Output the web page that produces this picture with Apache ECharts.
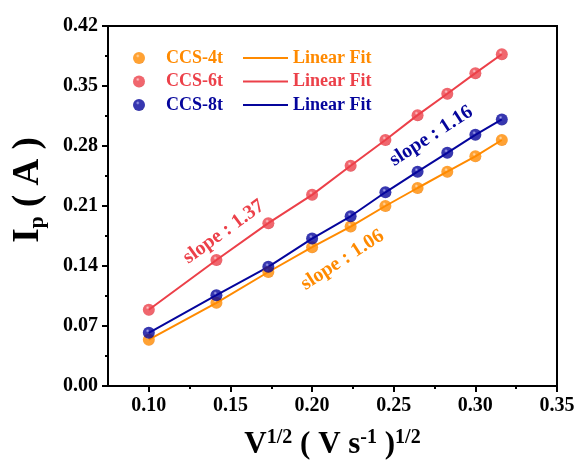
<!DOCTYPE html>
<html>
<head>
<meta charset="utf-8">
<script src="https://cdn.jsdelivr.net/npm/echarts@6/dist/echarts.min.js"></script>
<style>
  html, body { margin: 0; padding: 0; background: #fff; }
  #chart { width: 579px; height: 460px; }
</style>
</head>
<body>
<div id="chart"></div>
<script>
// Square root of scan rate, V^1/2 (V s^-1)^1/2
const sqrtScanRate = [0.1, 0.1414, 0.1732, 0.2, 0.2236, 0.2449, 0.2646, 0.2828, 0.3, 0.3162];

// Peak currents Ip (A) for each sample
const ccs4t = [0.054, 0.097, 0.133, 0.162, 0.186, 0.210, 0.231, 0.250, 0.268, 0.287];
const ccs6t = [0.089, 0.147, 0.190, 0.223, 0.257, 0.287, 0.316, 0.341, 0.365, 0.387];
const ccs8t = [0.062, 0.106, 0.139, 0.172, 0.198, 0.226, 0.250, 0.272, 0.293, 0.311];

const sampleNames = ['CCS-4t', 'CCS-6t', 'CCS-8t'];
const fitNames = ['fit-4t', 'fit-6t', 'fit-8t'];
const slopeTexts = ['slope : 1.06', 'slope : 1.37', 'slope : 1.16'];
// Where each slope annotation sits, in data units [x, y], and its tilt
const slopeAnchors = [[0.2186, 0.147], [0.1459, 0.1797], [0.2730, 0.2917]];
const slopeAngles = [33, 36, 33];

// Axis ticks
const xMajorTicks = [0.10, 0.15, 0.20, 0.25, 0.30, 0.35];
const xMinorTicks = [0.125, 0.175, 0.225, 0.275, 0.325];

const colors = ['#ff8a00', '#ec4049', '#05059c'];
const lights = ['#ffd9a8', '#ffc2c6', '#9c9cf0'];
const darks = ['#d86800', '#c01c26', '#00006a'];

const SERIF = '"Liberation Serif", "Times New Roman", serif';

function ball(i) {
  return {
    type: 'radial', x: 0.4, y: 0.33, r: 0.72,
    colorStops: [
      { offset: 0, color: lights[i] },
      { offset: 0.22, color: colors[i] },
      { offset: 0.85, color: colors[i] },
      { offset: 1, color: darks[i] }
    ]
  };
}

const dataSets = [ccs4t, ccs6t, ccs8t];
const pairs = dataSets.map(arr => sqrtScanRate.map((x, k) => [x, arr[k]]));

// Draw order: orange, red, blue (blue above orange)
const order = [0, 1, 2];
const series = [];
order.forEach(i => {
  series.push({
    name: fitNames[i],
    type: 'line',
    data: pairs[i],
    symbol: 'none',
    lineStyle: { color: colors[i], width: 2 },
    itemStyle: { color: colors[i] },
    z: 2 + i,
    silent: true,
    markPoint: {
      symbol: 'circle',
      symbolSize: 0,
      data: [{ coord: slopeAnchors[i] }],
      label: {
        show: true,
        position: 'inside',
        formatter: slopeTexts[i],
        rotate: slopeAngles[i],
        color: colors[i],
        fontFamily: SERIF,
        fontWeight: 'bold',
        fontSize: 20
      }
    }
  });
});
order.forEach(i => {
  series.push({
    name: sampleNames[i],
    type: 'scatter',
    data: pairs[i],
    symbol: 'circle',
    symbolSize: 12,
    itemStyle: { color: ball(i) },
    z: 10 + i,
    silent: true
  });
});

const legendText = { fontFamily: SERIF, fontWeight: 'bold', fontSize: 18, lineHeight: 18 };

const option = {
  backgroundColor: '#ffffff',
  animation: false,
  grid: {
    left: 108, top: 26, right: 22, bottom: 74,
    outerBoundsMode: 'none', containLabel: false,
    show: true, borderColor: '#000', borderWidth: 2, backgroundColor: 'transparent'
  },
  legend: [
    {
      orient: 'vertical', left: 128, top: 44,
      itemWidth: 44, itemHeight: 12, itemGap: 5.5,
      selectedMode: false,
      data: sampleNames.map((n, i) => ({ name: n, textStyle: Object.assign({ color: colors[i] }, legendText) })),
      textStyle: legendText
    },
    {
      orient: 'vertical', left: 238, top: 44,
      itemWidth: 45, itemHeight: 2, itemGap: 5.5,
      symbolKeepAspect: false,
      selectedMode: false,
      formatter: () => 'Linear Fit',
      data: fitNames.map((n, i) => ({ name: n, icon: 'rect', itemStyle: { color: colors[i] }, textStyle: Object.assign({ color: colors[i] }, legendText) })),
      textStyle: legendText
    }
  ],
  xAxis: [
    {
      type: 'value', min: 0.075, max: 0.35,
      splitLine: { show: false },
      axisLine: { show: true, onZero: false, lineStyle: { color: '#000', width: 2 } },
      axisTick: { show: true, customValues: xMajorTicks, length: 6, lineStyle: { color: '#000', width: 2 } },
      axisLabel: {
        customValues: xMajorTicks, margin: 10,
        formatter: v => v.toFixed(2),
        color: '#000', fontFamily: SERIF, fontWeight: 'bold', fontSize: 20
      },
      name: '{b|V}{sup|1/2}{b| ( V s}{sup|-1}{b| )}{sup|1/2}',
      nameLocation: 'middle', nameGap: 42,
      nameTextStyle: {
        rich: {
          b: { fontFamily: SERIF, fontWeight: 'bold', fontSize: 31, color: '#000', lineHeight: 34 },
          sup: { fontFamily: SERIF, fontWeight: 'bold', fontSize: 20, color: '#000', verticalAlign: 'top', lineHeight: 22 }
        }
      }
    },
    {
      type: 'value', min: 0.075, max: 0.35, position: 'bottom',
      splitLine: { show: false },
      axisLine: { show: false },
      axisTick: { show: true, customValues: xMinorTicks, length: 3, lineStyle: { color: '#000', width: 2 } },
      axisLabel: { show: false }
    }
  ],
  yAxis: {
    type: 'value', min: 0, max: 0.42, interval: 0.07,
    splitLine: { show: false },
    axisLine: { show: true, lineStyle: { color: '#000', width: 2 } },
    axisTick: { show: true, length: 6, lineStyle: { color: '#000', width: 2 } },
    minorTick: { show: true, splitNumber: 2, length: 3, lineStyle: { color: '#000', width: 2 } },
    axisLabel: {
      margin: 10,
      formatter: v => v.toFixed(2),
      color: '#000', fontFamily: SERIF, fontWeight: 'bold', fontSize: 20
    },
    name: '{b|I}{sub|p}{b| ( A )}',
    nameLocation: 'middle', nameRotate: 90, nameGap: 60,
    nameTextStyle: {
      padding: [0, 0, 0, 32],
      rich: {
        b: { fontFamily: SERIF, fontWeight: 'bold', fontSize: 37, color: '#000', lineHeight: 40 },
        sub: { fontFamily: SERIF, fontWeight: 'bold', fontSize: 22, color: '#000', verticalAlign: 'bottom', lineHeight: 22 }
      }
    }
  },
  series: series
};

const chart = echarts.init(document.getElementById('chart'), null, { renderer: 'canvas' });
chart.setOption(option);
</script>
</body>
</html>
